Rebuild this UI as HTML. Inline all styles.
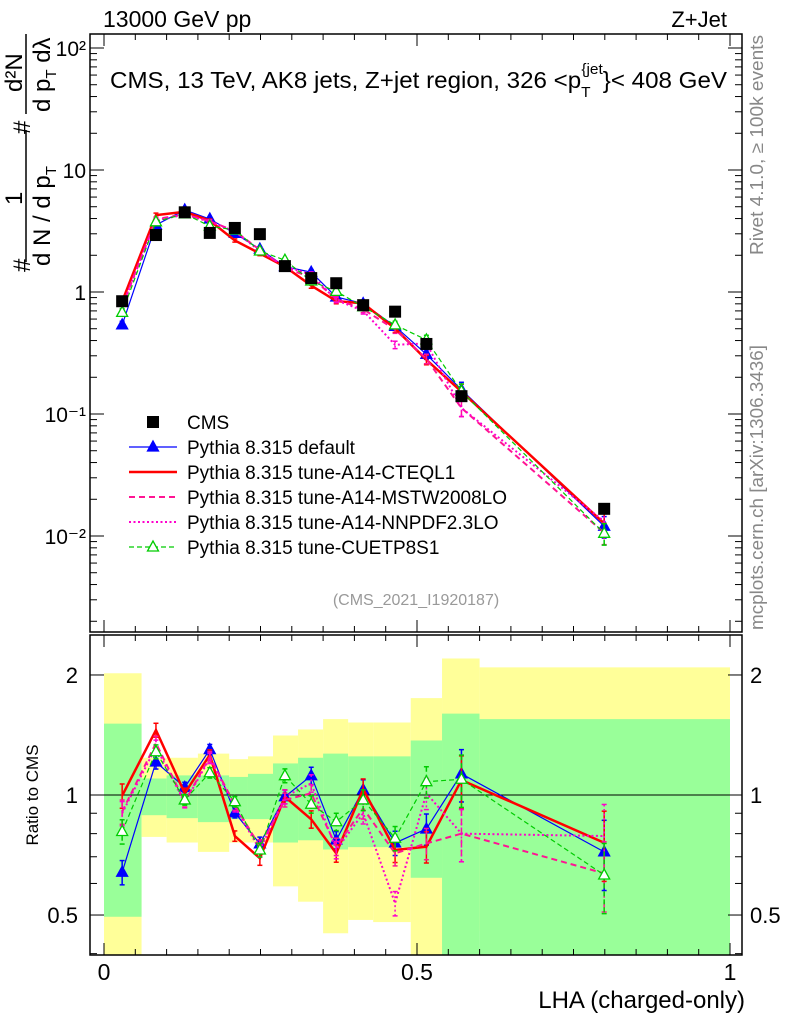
<!DOCTYPE html>
<html><head><meta charset="utf-8"><style>
body{margin:0;background:#fff}
svg{display:block;font-family:"Liberation Sans",Arial,sans-serif}
</style></head><body>
<svg id="c" width="786" height="1024" viewBox="0 0 786 1024">
<g id="bands"></g>
<g id="marks"></g>
<g id="axes"></g>
<text x="103" y="27" font-size="23">13000 GeV pp</text>
<text x="727" y="27" font-size="22" text-anchor="end">Z+Jet</text>
<text x="110" y="88" font-size="23.5" textLength="617" lengthAdjust="spacingAndGlyphs">CMS, 13 TeV, AK8 jets, Z+jet region, 326 &lt;p<tspan font-size="15" dy="9">T</tspan><tspan font-size="15" dy="-23" dx="-9">{jet</tspan><tspan dy="14">}&lt; 408 GeV</tspan></text>
<text transform="translate(763,255) rotate(-90)" font-size="18" fill="#888" textLength="220" lengthAdjust="spacingAndGlyphs">Rivet 4.1.0, ≥ 100k events</text>
<text transform="translate(763,630) rotate(-90)" font-size="18" fill="#888" textLength="285" lengthAdjust="spacingAndGlyphs">mcplots.cern.ch [arXiv:1306.3436]</text>
<text x="416" y="605" font-size="16" fill="#999" text-anchor="middle">(CMS_2021_I1920187)</text>
<g font-size="24">
<text transform="translate(30,272) rotate(-90)">#</text>
<text transform="translate(22,205) rotate(-90)">1</text>
<line x1="26" y1="262" x2="26" y2="130" stroke="#000" stroke-width="1.5"/>
<text transform="translate(50,266) rotate(-90)">d N / d p<tspan font-size="15" dy="6">T</tspan></text>
<text transform="translate(30,134) rotate(-90)">#</text>
<text transform="translate(22,92) rotate(-90)">d²N</text>
<line x1="26" y1="114" x2="26" y2="34" stroke="#000" stroke-width="1.5"/>
<text transform="translate(50,112) rotate(-90)">d p<tspan font-size="15" dy="6">T</tspan><tspan dy="-6"> dλ</tspan></text>
</g>
<text transform="translate(38,795) rotate(-90)" font-size="17" text-anchor="middle">Ratio to CMS</text>
<text x="745" y="1008" font-size="24" text-anchor="end">LHA (charged-only)</text>
<g id="legend"></g>
</svg>
<script>
const binEdges=[0,0.06,0.1,0.15,0.2,0.23,0.27,0.31,0.35,0.39,0.43,0.49,0.54,0.6,1];
const xPoints=[0.029,0.083,0.129,0.169,0.209,0.249,0.289,0.331,0.371,0.414,0.465,0.515,0.571,0.799];
const cmsValues=[0.84,2.93,4.5,3.05,3.35,2.98,1.63,1.3,1.18,0.78,0.69,0.375,0.14,0.0167];
const yellowHi=[2.02,1.24,1.24,1.27,1.23,1.25,1.41,1.46,1.55,1.52,1.52,1.75,2.2,2.09];
const yellowLo=[0.3,0.785,0.76,0.72,0.76,0.76,0.59,0.54,0.45,0.486,0.48,0.3,0.3,0.456];
const greenHi=[1.51,1.10,1.12,1.12,1.11,1.13,1.2,1.24,1.27,1.25,1.25,1.37,1.6,1.55];
const greenLo=[0.495,0.89,0.875,0.855,0.87,0.87,0.76,0.77,0.73,0.74,0.74,0.62,0.3,0.3];
const ratioDefault=[0.64,1.21,1.045,1.30,0.903,0.754,0.99,1.118,0.771,1.03,0.758,0.822,1.13,0.72];
const ratioCTEQ=[0.996,1.455,1.01,1.26,0.789,0.694,0.99,0.869,0.714,1.035,0.728,0.742,1.09,0.759];
const ratioMSTW=[0.908,1.35,0.962,1.247,0.944,0.742,0.972,1.01,0.742,0.926,0.714,0.756,0.80,0.636];
const ratioNNPDF=[0.90,1.32,0.957,1.236,0.935,0.728,0.99,1.07,0.728,0.90,0.535,1.01,0.80,0.789];
const ratioCUETP=[0.81,1.284,0.972,1.137,0.962,0.728,1.118,0.948,0.857,0.972,0.779,1.08,1.095,0.63];
const relErr=[0.07,0.04,0.03,0.03,0.03,0.04,0.04,0.05,0.05,0.06,0.07,0.09,0.15,0.2];
const yTickLabels=["10²","10","1","10⁻¹","10⁻²"];
const ratioTickLabels=["2","1","0.5"];
const xTickLabels=["0","0.5","1"];

const NS="http://www.w3.org/2000/svg";
const FL=90,FR=742,MT=34,MB=632,RT=635,RB=955;
const X=v=>104+626*v;
const YM=v=>292-122*Math.log10(v);
const YR=v=>795-398.7*Math.log10(v);
function mk(tag,attrs,parent){const e=document.createElementNS(NS,tag);for(const k in attrs)e.setAttribute(k,attrs[k]);parent.appendChild(e);return e;}
const bands=document.getElementById('bands'),marks=document.getElementById('marks'),axes=document.getElementById('axes'),legend=document.getElementById('legend');
const clampR=v=>Math.min(Math.max(YR(v),RT),RB);
for(let i=0;i<14;i++){
  const x0=X(binEdges[i]),x1=X(binEdges[i+1]);
  let r=mk('rect',{x:x0,y:clampR(yellowHi[i]),width:x1-x0,height:clampR(yellowLo[i])-clampR(yellowHi[i]),fill:'#ffff99'},bands);
  
  
  let g=mk('rect',{x:x0,y:clampR(greenHi[i]),width:x1-x0,height:clampR(greenLo[i])-clampR(greenHi[i]),fill:'#99ff99'},bands);
  
  
}
mk('line',{x1:FL,x2:FR,y1:YR(1),y2:YR(1),stroke:'#000','stroke-width':1},bands);
const series=[
 {name:'default',r:ratioDefault,c:'#0000ff',w:1.2,dash:'',m:'tri-fill'},
 {name:'cteql1',r:ratioCTEQ,c:'#ff0000',w:2.5,dash:'',m:'none'},
 {name:'mstw2008lo',r:ratioMSTW,c:'#ff1493',w:2,dash:'6,4',m:'none'},
 {name:'nnpdf23lo',r:ratioNNPDF,c:'#ff00cc',w:2,dash:'2,2.5',m:'none'},
 {name:'cuetp8s1',r:ratioCUETP,c:'#00cc00',w:1.2,dash:'5,3',m:'tri-open'}
];
function tri(cx,cy,s,open,parent){
  const p=mk('polygon',{points:`${cx},${cy-6} ${cx-5.5},${cy+4} ${cx+5.5},${cy+4}`,fill:open?'#fff':s.c,stroke:s.c,'stroke-width':1.3},parent);
  
  
}
series.forEach(s=>{
  const g=mk('g',{},marks);
  
  
  const mainPts=xPoints.map((x,i)=>[X(x),YM(s.r[i]*cmsValues[i])]);
  const ratPts=xPoints.map((x,i)=>[X(x),YR(s.r[i])]);
  [mainPts,ratPts].forEach((pts,k)=>{
    const l=mk('polyline',{points:pts.map(p=>p.join(',')).join(' '),fill:'none',stroke:s.c,'stroke-width':s.w,'stroke-dasharray':s.dash},g);
    
    
    pts.forEach((p,i)=>{
      const v=k?s.r[i]:s.r[i]*cmsValues[i];
      const f=k?YR:YM;
      const y1=f(v*(1+relErr[i])),y2=f(v*(1-relErr[i]));
      mk('line',{x1:p[0],x2:p[0],y1:y1,y2:y2,stroke:s.c,'stroke-width':1.5,'stroke-dasharray':s.dash},g);
      mk('line',{x1:p[0]-2.5,x2:p[0]+2.5,y1:y1,y2:y1,stroke:s.c,'stroke-width':1.5},g);
      mk('line',{x1:p[0]-2.5,x2:p[0]+2.5,y1:y2,y2:y2,stroke:s.c,'stroke-width':1.5},g);
      if(s.m!=='none')tri(p[0],p[1],s,s.m==='tri-open',g);
    });
  });
});
xPoints.forEach((x,i)=>{
  const r=mk('rect',{x:X(x)-6,y:YM(cmsValues[i])-6,width:12,height:12,fill:'#000'},marks);
  
  
});
[[MT,MB],[RT,RB]].forEach(([t,b])=>mk('rect',{x:FL,y:t,width:FR-FL,height:b-t,fill:'none',stroke:'#000','stroke-width':1.5},axes));
for(let k=0;k<=20;k++){
  const v=k*0.05,x=X(v),len=(k%10===0)?12:6;
  [[MT,1],[MB,-1],[RT,1],[RB,-1]].forEach(([y,d])=>mk('line',{x1:x,x2:x,y1:y,y2:y+d*len,stroke:'#000'},axes));
}
xTickLabels.forEach((t,i)=>{
  const tx=mk('text',{x:X(i*0.5),y:980,'font-size':23,'text-anchor':'middle'},axes);tx.textContent=t;
  
  
});
for(let d=-3;d<=2;d++){for(let m=1;m<10;m++){const v=m*Math.pow(10,d),y=YM(v);if(y<MT||y>MB)continue;const len=m===1?14:7;
  mk('line',{x1:FL,x2:FL+len,y1:y,y2:y,stroke:'#000'},axes);mk('line',{x1:FR,x2:FR-len,y1:y,y2:y,stroke:'#000'},axes);}}
yTickLabels.forEach((t,i)=>{
  const tx=mk('text',{x:86,y:YM(Math.pow(10,2-i))+8,'font-size':21,'text-anchor':'end'},axes);tx.textContent=t;
  
  
});
[0.4,0.5,0.6,0.7,0.8,0.9,1,2].forEach(v=>{const y=YR(v);const len=(v===0.5||v===1||v===2)?14:7;
  mk('line',{x1:FL,x2:FL+len,y1:y,y2:y,stroke:'#000'},axes);mk('line',{x1:FR,x2:FR-len,y1:y,y2:y,stroke:'#000'},axes);});
[2,1,0.5].forEach((v,i)=>{
  const a=mk('text',{x:78,y:YR(v)+8,'font-size':22,'text-anchor':'end'},axes);a.textContent=ratioTickLabels[i];
  
  
  const b=mk('text',{x:750,y:YR(v)+8,'font-size':22},axes);b.textContent=ratioTickLabels[i];
  
  
});
const legNames=['CMS','Pythia 8.315 default','Pythia 8.315 tune-A14-CTEQL1','Pythia 8.315 tune-A14-MSTW2008LO','Pythia 8.315 tune-A14-NNPDF2.3LO','Pythia 8.315 tune-CUETP8S1'];
legNames.forEach((n,i)=>{
  const y=422+25*i;
  const g=mk('g',{},legend);
  
  
  if(i===0)mk('rect',{x:147,y:y-6,width:12,height:12,fill:'#000'},g);
  else{const s=series[i-1];mk('line',{x1:129,x2:177,y1:y,y2:y,stroke:s.c,'stroke-width':s.w,'stroke-dasharray':s.dash},g);
    if(s.m!=='none')tri(153,y,s,s.m==='tri-open',g);}
  const t=mk('text',{x:187,y:y+7,'font-size':19},g);t.textContent=n;
});
</script>
</body></html>
